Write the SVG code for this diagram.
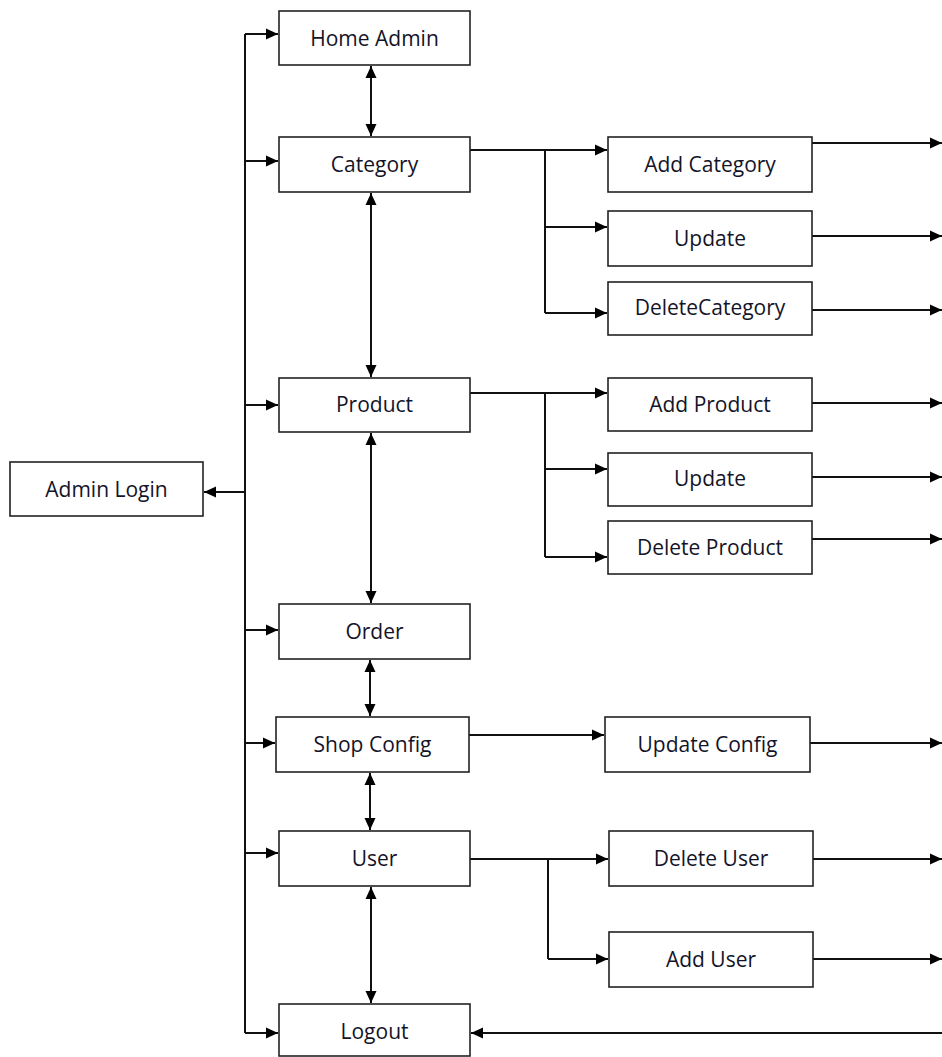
<svg xmlns="http://www.w3.org/2000/svg" width="942" height="1057" viewBox="0 0 942 1057">
<defs>
<marker id="ah" markerWidth="13" markerHeight="13" refX="12" refY="6.5" orient="auto-start-reverse" markerUnits="userSpaceOnUse">
<path d="M0,1 L12,6.5 L0,12 Z" fill="#000"/>
</marker>
<style>
.box{fill:#fff;stroke:#222;stroke-width:1.6}
.lbl{font-family:"Open Sans","Liberation Sans",sans-serif;font-size:21px;fill:#141428;text-anchor:middle;dominant-baseline:central}
.ln{fill:none;stroke:#111;stroke-width:2}
.arr{fill:none;stroke:#111;stroke-width:2;marker-end:url(#ah)}
.dbl{fill:none;stroke:#111;stroke-width:2;marker-start:url(#ah);marker-end:url(#ah)}
</style>
</defs>
<rect width="942" height="1057" fill="#fff"/>
<g id="connectors">
<path class="ln" d="M245,34 V1033"/>
<path class="arr" d="M245,492 H204"/>
<path class="arr" d="M245,34 H278"/>
<path class="arr" d="M245,161 H278"/>
<path class="arr" d="M245,405 H278"/>
<path class="arr" d="M245,630 H278"/>
<path class="arr" d="M245,743 H275"/>
<path class="arr" d="M245,853 H278"/>
<path class="arr" d="M245,1033 H278"/>
<path class="dbl" d="M371,66 V136"/>
<path class="dbl" d="M371,193 V377"/>
<path class="dbl" d="M371,433 V603"/>
<path class="dbl" d="M370,660 V716"/>
<path class="dbl" d="M370,773 V830"/>
<path class="dbl" d="M371,887 V1003"/>
<path class="ln" d="M470,150 H545 V313"/>
<path class="arr" d="M545,150 H607"/>
<path class="arr" d="M545,227 H607"/>
<path class="arr" d="M545,313 H607"/>
<path class="arr" d="M812,143 H942"/>
<path class="arr" d="M812,236 H942"/>
<path class="arr" d="M812,310 H942"/>
<path class="ln" d="M470,393 H545 V557"/>
<path class="arr" d="M545,393 H607"/>
<path class="arr" d="M545,469 H607"/>
<path class="arr" d="M545,557 H607"/>
<path class="arr" d="M812,403 H942"/>
<path class="arr" d="M812,477 H942"/>
<path class="arr" d="M812,539 H942"/>
<path class="arr" d="M469,735 H604"/>
<path class="arr" d="M810,743 H942"/>
<path class="ln" d="M470,859 H548 V959"/>
<path class="arr" d="M548,859 H608"/>
<path class="arr" d="M548,959 H608"/>
<path class="arr" d="M813,859 H942"/>
<path class="arr" d="M813,959 H942"/>
<path class="arr" d="M942,1033 H471"/>
</g>
<g id="admin-login"><rect class="box" x="10" y="462" width="193" height="54"/><text class="lbl" x="106.5" y="489">Admin Login</text></g>
<g id="home-admin"><rect class="box" x="279" y="11" width="191" height="54"/><text class="lbl" x="374.5" y="38">Home Admin</text></g>
<g id="category"><rect class="box" x="279" y="137" width="191" height="55"/><text class="lbl" x="374.5" y="164">Category</text></g>
<g id="add-category"><rect class="box" x="608" y="137" width="204" height="55"/><text class="lbl" x="710" y="164">Add Category</text></g>
<g id="update-category"><rect class="box" x="608" y="211" width="204" height="55"/><text class="lbl" x="710" y="238">Update</text></g>
<g id="delete-category"><rect class="box" x="608" y="282" width="204" height="53"/><text class="lbl" x="710" y="307">DeleteCategory</text></g>
<g id="product"><rect class="box" x="279" y="378" width="191" height="54"/><text class="lbl" x="374.5" y="404">Product</text></g>
<g id="add-product"><rect class="box" x="608" y="378" width="204" height="53"/><text class="lbl" x="710" y="404">Add Product</text></g>
<g id="update-product"><rect class="box" x="608" y="453" width="204" height="53"/><text class="lbl" x="710" y="478">Update</text></g>
<g id="delete-product"><rect class="box" x="608" y="521" width="204" height="53"/><text class="lbl" x="710" y="547">Delete Product</text></g>
<g id="order"><rect class="box" x="279" y="604" width="191" height="55"/><text class="lbl" x="374.5" y="631">Order</text></g>
<g id="shop-config"><rect class="box" x="276" y="717" width="193" height="55"/><text class="lbl" x="372.5" y="744">Shop Config</text></g>
<g id="update-config"><rect class="box" x="605" y="717" width="205" height="55"/><text class="lbl" x="707.5" y="744">Update Config</text></g>
<g id="user"><rect class="box" x="279" y="831" width="191" height="55"/><text class="lbl" x="374.5" y="858">User</text></g>
<g id="delete-user"><rect class="box" x="609" y="831" width="204" height="55"/><text class="lbl" x="711" y="858">Delete User</text></g>
<g id="add-user"><rect class="box" x="609" y="932" width="204" height="55"/><text class="lbl" x="711" y="959">Add User</text></g>
<g id="logout"><rect class="box" x="279" y="1004" width="191" height="52"/><text class="lbl" x="374.5" y="1031">Logout</text></g>
</svg>
